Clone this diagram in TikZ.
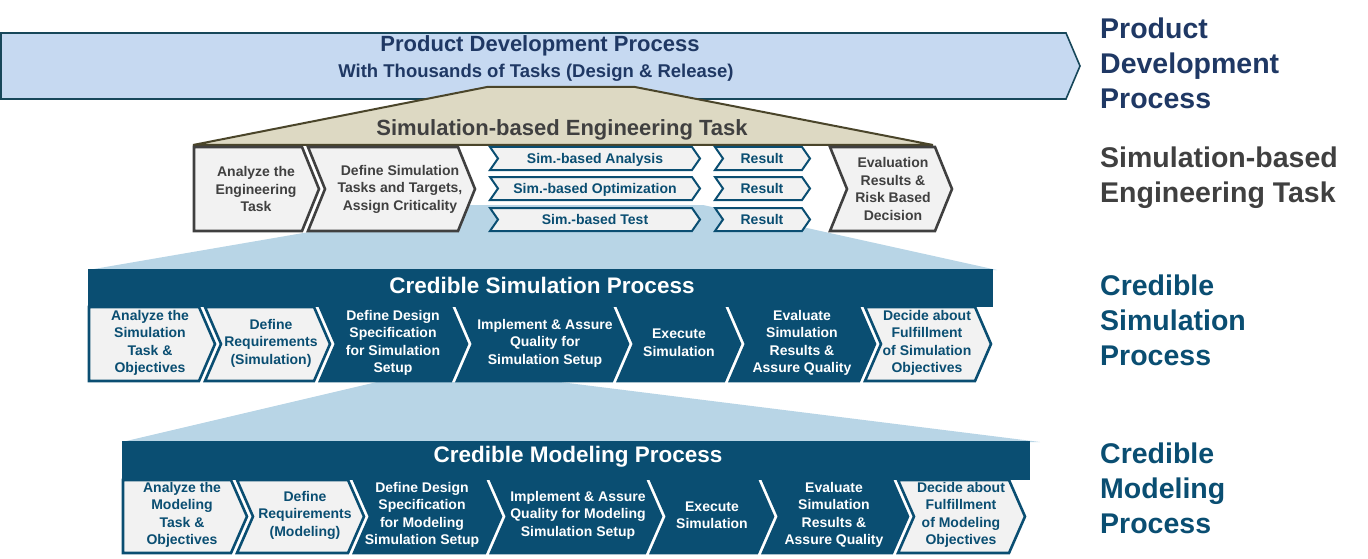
\documentclass[tikz,border=0pt]{standalone}
\usepackage{fontspec}
\setmainfont{Liberation Sans}

\definecolor{pdpfill}{HTML}{C6D9F1}
\definecolor{pdpline}{HTML}{17475A}
\definecolor{pdptext}{HTML}{1F3864}
\definecolor{sbetfill}{HTML}{DDD9C3}
\definecolor{sbetline}{HTML}{4A452A}
\definecolor{sbetgray}{HTML}{404040}
\definecolor{boxgray}{HTML}{F2F2F2}
\definecolor{cspblue}{HTML}{0A4E72}
\definecolor{zoomblue}{HTML}{B8D5E6}

% chevron: [style]{left}{right}{top}{bottom}{notch}{tip}
\newcommand{\chevbox}[7][]{%
  \path[#1] (#2,#4) -- (#3,#4) -- ({#3+#7},{(#4+#5)/2}) -- (#3,#5) -- (#2,#5) -- ({#2+#6},{(#4+#5)/2}) -- cycle;}

\newcommand{\boxfont}{\bfseries\fontsize{14}{17.5}\selectfont}

\tikzset{
  sbetbox/.style={fill=boxgray, draw=sbetgray, line width=2.6pt},
  simbox/.style={fill=boxgray, draw=cspblue, line width=2pt},
  lightchev/.style={fill=boxgray, draw=cspblue, line width=2.6pt},
  darkchev/.style={fill=cspblue, draw=cspblue, line width=2.6pt},
  graytxt/.style={text=sbetgray, font=\boxfont, align=center, inner sep=0pt},
  bluetxt/.style={text=cspblue, font=\boxfont, align=center, inner sep=0pt},
  whitetxt/.style={text=white, font=\boxfont, align=center, inner sep=0pt},
  bandtitle/.style={text=white, font=\bfseries\fontsize{22.5}{27}\selectfont, inner sep=0pt},
  sidelabel/.style={anchor=north west, inner sep=0pt, align=left, font=\bfseries\fontsize{28.5}{35}\selectfont}
}

\begin{document}
\begin{tikzpicture}[x=1pt,y=-1pt]
    \useasboundingbox (0,0) rectangle (1368,559);

    % Zoom areas behind the rows
    \fill[zoomblue] (88,270) -- (466,205) -- (703,205) -- (997,270) -- cycle;
    \fill[zoomblue] (122,442) -- (377,382) -- (560,382) -- (1040,442) -- cycle;

    % Product development arrow
    \draw[fill=pdpfill, draw=pdpline, line width=1.6pt] (1,33) -- (1066,33) -- (1080,66) -- (1066,99) -- (1,99) -- cycle;
    \node[text=pdptext, font=\bfseries\fontsize{22}{26}\selectfont, inner sep=0pt] (pdptitle) at (540,46) {Product Development Process};
    \node[text=pdptext, font=\bfseries\fontsize{18.5}{22}\selectfont, inner sep=0pt] (pdpsub) at (536,73) {With Thousands of Tasks (Design \& Release)};

    % Simulation-based engineering task
    \draw[fill=sbetfill, draw=sbetline, line width=2pt] (193,145) -- (487,87) -- (635,87) -- (933,145) -- cycle;
    \node[text=sbetgray, font=\bfseries\fontsize{22}{26}\selectfont, inner sep=0pt] (sbettitle) at (562,130) {Simulation-based Engineering Task};

    \chevbox[sbetbox]{194}{302}{147}{231}{0}{17}
    \chevbox[sbetbox]{308}{458}{147}{231}{17}{17}
    \chevbox[simbox]{490}{692}{147}{170}{8}{8}
    \chevbox[simbox]{490}{692}{177}{200}{8}{8}
    \chevbox[simbox]{490}{692}{208}{231}{8}{8}
    \chevbox[simbox]{715}{802}{147}{170}{8}{8}
    \chevbox[simbox]{715}{802}{177}{200}{8}{8}
    \chevbox[simbox]{715}{802}{208}{231}{8}{8}
    \chevbox[sbetbox]{830}{935}{147}{231}{17}{17}

    \node[graytxt] (engtask) at (256,189) {Analyze the\\Engineering\\Task};
    \node[graytxt] (simtasks) at (400,189) {Define Simulation\\Tasks and Targets,\\Assign Criticality};
    \node[bluetxt] (analysis) at (595,160) {Sim.-based Analysis};
    \node[bluetxt] (optim) at (595,190) {Sim.-based Optimization};
    \node[bluetxt] (test) at (595,219) {Sim.-based Test};
    \node[bluetxt] (res1) at (762,158) {Result};
    \node[bluetxt] (res2) at (762,188) {Result};
    \node[bluetxt] (res3) at (762,219) {Result};
    \node[graytxt] (decision) at (893,189) {Evaluation\\Results \&\\Risk Based\\Decision};

    % Credible simulation process
    \fill[cspblue] (88,269) rectangle (993,307);
    \node[bandtitle] (csptitle) at (542,285) {Credible Simulation Process};

    \chevbox[lightchev]{89}{199}{307}{381}{0}{16}
    \chevbox[lightchev]{205}{314}{307}{381}{16}{16}
    \chevbox[darkchev]{320}{451}{307}{381}{16}{16}
    \chevbox[darkchev]{457}{612}{307}{381}{16}{16}
    \chevbox[darkchev]{618}{724}{307}{381}{16}{16}
    \chevbox[darkchev]{730}{859}{307}{381}{16}{16}
    \chevbox[lightchev]{865}{975}{307}{381}{16}{16}

    \node[bluetxt] (csp1) at (150,343) {Analyze the\\Simulation\\Task \&\\Objectives};
    \node[bluetxt] (csp2) at (271,343) {Define\\Requirements\\(Simulation)};
    \node[whitetxt] (csp3) at (393,343) {Define Design\\Specification\\for Simulation\\Setup};
    \node[whitetxt] (csp4) at (545,343) {Implement \& Assure\\Quality for\\Simulation Setup};
    \node[whitetxt] (csp5) at (679,343) {Execute\\Simulation};
    \node[whitetxt] (csp6) at (802,343) {Evaluate\\Simulation\\Results \&\\Assure Quality};
    \node[bluetxt] (csp7) at (927,343) {Decide about\\Fulfillment\\of Simulation\\Objectives};

    % Credible modeling process
    \fill[cspblue] (122,441) rectangle (1030,480);
    \node[bandtitle] (cmptitle) at (578,457) {Credible Modeling Process};

    \chevbox[lightchev]{123}{231}{480}{553}{0}{16}
    \chevbox[lightchev]{237}{348}{480}{553}{16}{16}
    \chevbox[darkchev]{354}{485}{480}{553}{16}{16}
    \chevbox[darkchev]{491}{645}{480}{553}{16}{16}
    \chevbox[darkchev]{651}{757}{480}{553}{16}{16}
    \chevbox[darkchev]{763}{892}{480}{553}{16}{16}
    \chevbox[lightchev]{898}{1009}{480}{553}{16}{16}

    \node[bluetxt] (cmp1) at (182,515) {Analyze the\\Modeling\\Task \&\\Objectives};
    \node[bluetxt] (cmp2) at (305,515) {Define\\Requirements\\(Modeling)};
    \node[whitetxt] (cmp3) at (422,515) {Define Design\\Specification\\for Modeling\\Simulation Setup};
    \node[whitetxt] (cmp4) at (578,515) {Implement \& Assure\\Quality for Modeling\\Simulation Setup};
    \node[whitetxt] (cmp5) at (712,515) {Execute\\Simulation};
    \node[whitetxt] (cmp6) at (834,515) {Evaluate\\Simulation\\Results \&\\Assure Quality};
    \node[bluetxt] (cmp7) at (961,515) {Decide about\\Fulfillment\\of Modeling\\Objectives};

    % Level labels on the right
    \node[sidelabel, text=pdptext] (pdplabel) at (1100,18) {Product\\Development\\Process};
    \node[sidelabel, text=sbetgray] (sbetlabel) at (1100,147) {Simulation-based\\Engineering Task};
    \node[sidelabel, text=cspblue] (csplabel) at (1100,275) {Credible\\Simulation\\Process};
    \node[sidelabel, text=cspblue] (cmplabel) at (1100,443) {Credible\\Modeling\\Process};
\end{tikzpicture}
\end{document}
